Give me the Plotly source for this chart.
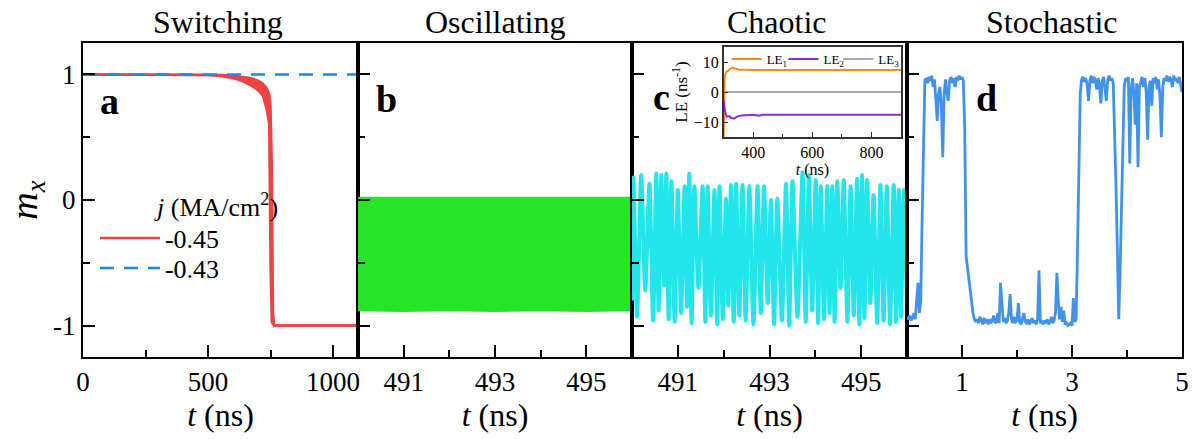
import plotly.graph_objects as go

FONT = "Liberation Serif"

# ---------------- data ----------------
# Panel a (Switching): envelope of the fast-oscillating j=-0.45 curve, and j=-0.43 curve
t_a = [0, 200, 400, 500, 560, 600, 640, 670, 700, 720, 735, 745, 750, 755, 760, 765, 800, 1100]
mx_a_hi = [1, 1, 1, 0.998, 0.995, 0.99, 0.983, 0.972, 0.95, 0.925, 0.89, 0.84, 0.75, 0.3, -0.9, -1.0, -1, -1]
mx_a_lo = [1, 1, 0.999, 0.995, 0.985, 0.97, 0.945, 0.915, 0.875, 0.83, 0.72, 0.6, -0.5, -0.97, -0.99, -1.0, -1, -1]
t_a2 = [0, 1100]
mx_a2 = [1, 1]

# Panel b (Oscillating): envelope of the fast oscillation
t_b = [490, 491, 492, 493, 494, 495, 496]
mx_b_hi = [0.02, 0.02, 0.015, 0.02, 0.02, 0.015, 0.02]
mx_b_lo = [-0.88, -0.885, -0.88, -0.885, -0.88, -0.885, -0.88]

# Panel c (Chaotic): successive extrema
t_c = [490.00, 490.03, 490.11, 490.20, 490.29, 490.38, 490.46, 490.53, 490.58, 490.64,
       490.70, 490.75, 490.80, 490.86, 490.93, 491.00, 491.07, 491.15, 491.20, 491.25,
       491.30, 491.36, 491.45, 491.54, 491.60, 491.65, 491.72, 491.80, 491.86, 491.91,
       491.98, 492.05, 492.10, 492.16, 492.22, 492.27, 492.34, 492.41, 492.48, 492.56,
       492.65, 492.74, 492.81, 492.88, 492.96, 493.03, 493.10, 493.17, 493.27, 493.36,
       493.43, 493.50, 493.61, 493.72, 493.79, 493.86, 493.93, 494.01, 494.06, 494.12,
       494.19, 494.26, 494.31, 494.37, 494.42, 494.48, 494.55, 494.62, 494.70, 494.77,
       494.84, 494.91, 494.96, 495.02, 495.07, 495.13, 495.20, 495.27, 495.35, 495.42,
       495.49, 495.56, 495.63, 495.71, 495.76, 495.82, 495.87, 495.93, 496.00]
mx_c = [-0.80, 0.18, -0.93, 0.20, -0.72, 0.13, -0.96, 0.21, -0.88, 0.20,
        -0.68, 0.21, -0.95, 0.15, -0.97, 0.08, -0.90, 0.11, -0.85, 0.21,
        -0.98, 0.11, -0.70, 0.11, -0.97, 0.11, -0.92, 0.08, -0.99, 0.11,
        -0.95, 0.01, -0.84, 0.12, -0.97, 0.13, -0.92, 0.12, -0.96, 0.11,
        -0.99, 0.11, -0.90, 0.11, -0.82, 0.00, -0.99, 0.01, -0.96, 0.13,
        -1.00, 0.15, -0.93, 0.22, -0.97, 0.20, -0.88, 0.16, -0.98, 0.11,
        -0.95, 0.11, -0.90, 0.11, -0.97, 0.15, -0.70, 0.16, -0.97, 0.11,
        -0.92, 0.17, -0.99, 0.20, -0.94, 0.16, -0.82, 0.04, -0.98, 0.12,
        -0.96, 0.11, -0.99, 0.12, -0.97, 0.08, -0.93, 0.08, -0.90]

# Panel d (Stochastic): sampled every 0.025 ns from 0 to 5 ns
mx_d = [-0.93, -0.95, -0.92, -0.96, -0.94, -0.90, -0.95, -0.80, -0.66, -0.90,
        -0.80, -0.15, 0.50, 0.95, 0.97, 0.93, 0.98, 0.95, 0.99, 0.90,
        0.96, 0.80, 0.63, 0.85, 0.90, 0.75, 0.34, 0.85, 0.96, 0.85,
        0.79, 0.95, 0.98, 0.93, 0.97, 0.90, 0.98, 0.95, 0.99, 0.96,
        0.98, 0.95, 0.55, -0.45, -0.55, -0.65, -0.74, -0.84, -0.90, -0.95,
        -0.97, -0.95, -0.98, -0.93, -0.97, -0.99, -0.94, -0.97, -0.96, -0.99,
        -0.95, -0.98, -0.96, -0.92, -0.98, -0.97, -0.90, -0.98, -0.66, -0.85,
        -0.97, -0.94, -0.98, -0.96, -0.90, -0.75, -0.95, -0.98, -0.93, -0.97,
        -0.96, -0.82, -0.97, -0.99, -0.94, -0.90, -0.97, -0.98, -0.95, -0.99,
        -0.97, -0.94, -0.98, -0.96, -0.99, -0.95, -0.56, -0.98, -0.97, -0.99,
        -0.96, -0.98, -0.95, -0.99, -0.97, -0.93, -0.98, -0.96, -0.90, -0.58,
        -0.80, -0.95, -0.85, -0.97, -0.88, -0.99, -0.98, -1.00, -0.99, -0.98,
        -1.00, -0.78, -0.97, -0.95, -0.40, 0.30, 0.85, 0.96, 0.98, 0.94,
        0.97, 0.92, 0.79, 0.95, 0.99, 0.93, 0.98, 0.95, 0.88, 0.97,
        0.92, 0.77, 0.95, 0.98, 0.90, 0.79, 0.96, 0.99, 0.95, 0.97,
        0.93, 0.60, 0.10, -0.40, -0.95, -0.55, 0.00, 0.55, 0.90, 0.97,
        0.95, 0.98, 0.29, 0.88, 0.97, 0.85, 0.60, 0.93, 0.26, 0.90,
        0.95, 0.98, 0.90, 0.97, 0.85, 0.48, 0.90, 0.95, 0.75, 0.97,
        0.93, 0.98, 0.88, 0.96, 0.82, 0.50, 0.90, 0.97, 0.95, 0.99,
        0.94, 0.98, 0.96, 0.90, 0.99, 0.95, 0.97, 0.93, 0.98, 0.90,
        0.86]
t_d_step = 0.025

# Inset: Lyapunov exponents
t_le1 = [300, 301, 303, 306, 310, 315, 320, 330, 340, 350, 370, 400, 500, 600, 700, 800, 900]
le1 = [-15, -4, 4.5, 6.0, 6.8, 7.0, 7.6, 8.1, 7.8, 7.5, 7.4, 7.3, 7.3, 7.3, 7.3, 7.3, 7.3]
t_le2 = [300, 302, 305, 310, 318, 325, 335, 345, 360, 400, 420, 430, 500, 550, 560, 600, 900]
le2 = [-3.0, -4.5, -6.5, -8.2, -8.0, -8.6, -8.9, -8.2, -7.8, -7.6, -7.9, -7.6, -7.6, -7.8, -7.6, -7.6, -7.6]
t_le3 = [300, 900]
le3 = [0, 0]
le_names = ["LE<sub>1</sub>", "LE<sub>2</sub>", "LE<sub>3</sub>"]

RED = "#EC4444"
BLUE_DASH = "#1E88E5"
GREEN = "#28E428"
CYAN = "#22E6EC"
BLUE = "#4192EA"
ORANGE = "#F28C28"
PURPLE = "#8A2BE2"
GRAY = "#8C8C8C"

fig = go.Figure()

# Panel a
fig.add_trace(go.Scatter(x=t_a, y=mx_a_lo, mode="lines", line=dict(color=RED, width=2.5),
                         name="-0.45", legend="legend", showlegend=True, xaxis="x", yaxis="y"))
fig.add_trace(go.Scatter(x=t_a, y=mx_a_hi, mode="lines", line=dict(color=RED, width=2.5),
                         fill="tonexty", fillcolor=RED, showlegend=False, xaxis="x", yaxis="y"))
fig.add_trace(go.Scatter(x=t_a2, y=mx_a2, mode="lines", line=dict(color=BLUE_DASH, width=2.5, dash="14px,10px"),
                         name="-0.43", legend="legend2", showlegend=True, xaxis="x", yaxis="y"))

# Panel b
fig.add_trace(go.Scatter(x=t_b, y=mx_b_lo, mode="lines", line=dict(color=GREEN, width=1.5),
                         showlegend=False, xaxis="x2", yaxis="y2"))
fig.add_trace(go.Scatter(x=t_b, y=mx_b_hi, mode="lines", line=dict(color=GREEN, width=1.5),
                         fill="tonexty", fillcolor=GREEN, showlegend=False, xaxis="x2", yaxis="y2"))

# Panel c
fig.add_trace(go.Scatter(x=t_c, y=mx_c, mode="lines", line=dict(color=CYAN, width=4, shape="spline", smoothing=0.7),
                         showlegend=False, xaxis="x3", yaxis="y3"))

# Panel d
fig.add_trace(go.Scatter(x0=0, dx=t_d_step, y=mx_d, mode="lines", line=dict(color=BLUE, width=2.8),
                         showlegend=False, xaxis="x4", yaxis="y4"))

# Inset
fig.add_trace(go.Scatter(x=t_le3, y=le3, mode="lines", line=dict(color=GRAY, width=1.5),
                         name=le_names[2], legend="legend5", showlegend=True, xaxis="x5", yaxis="y5"))
fig.add_trace(go.Scatter(x=t_le1, y=le1, mode="lines", line=dict(color=ORANGE, width=2),
                         name=le_names[0], legend="legend3", showlegend=True, xaxis="x5", yaxis="y5"))
fig.add_trace(go.Scatter(x=t_le2, y=le2, mode="lines", line=dict(color=PURPLE, width=2),
                         name=le_names[1], legend="legend4", showlegend=True, xaxis="x5", yaxis="y5"))

W, H = 1201, 439
X0, X1, Y0, Y1 = 83, 1186, 43, 357      # plot area in window pixels
L, R, T, B = X0, W - X1, Y0, H - Y1
PW = X1 - X0
PH = Y1 - Y0


def px(x):
    return (x - X0) / PW


def py(y):
    return (Y1 - y) / PH


tickfont = dict(family=FONT, size=27, color="black")
titlefont = dict(family=FONT, size=32, color="black")

common = dict(showline=True, linecolor="black", linewidth=2, mirror=True,
              ticks="inside", ticklen=12, tickwidth=2, tickcolor="black",
              showgrid=False, zeroline=False, tickfont=tickfont)

yminor = dict(tickvals=[-0.5, 0.5], ticks="inside", ticklen=7, tickwidth=2, tickcolor="black")

doms = [[0, px(359)], [px(359), px(634)], [px(634), px(910)], [px(910), 1]]


def small_legend(xpix):
    return dict(x=px(xpix), y=py(59), xanchor="left", yanchor="middle", bgcolor="rgba(0,0,0,0)",
                font=dict(family=FONT, size=13, color="black"), itemwidth=30)


fig.update_layout(
    width=W, height=H,
    margin=dict(l=L, r=R, t=T, b=B),
    paper_bgcolor="white", plot_bgcolor="white",
    font=dict(family=FONT, color="black"),
    xaxis=dict(domain=doms[0], range=[0, 1100], tickvals=[0, 500, 1000],
               minor=dict(tickvals=[250, 750], ticks="inside", ticklen=7, tickwidth=2, tickcolor="black"),
               title=dict(text="<i>t</i> (ns)", font=titlefont, standoff=4), anchor="y", **common),
    yaxis=dict(domain=[0, 1], range=[-1.25, 1.25], tickvals=[-1, 0, 1], ticktext=["-1", "0", "1"],
               minor=yminor, anchor="x",
               title=dict(text="<i>m<sub>x</sub></i>", font=dict(family=FONT, size=38, color="black"), standoff=4),
               **common),
    xaxis2=dict(domain=doms[1], range=[490, 496], tickvals=[491, 493, 495],
                minor=dict(tickvals=[492, 494], ticks="inside", ticklen=7, tickwidth=2, tickcolor="black"),
                title=dict(text="<i>t</i> (ns)", font=titlefont, standoff=4), anchor="y2", **common),
    yaxis2=dict(domain=[0, 1], range=[-1.25, 1.25], tickvals=[-1, 0, 1], showticklabels=False,
                minor=yminor, anchor="x2", **common),
    xaxis3=dict(domain=doms[2], range=[490, 496], tickvals=[491, 493, 495],
                minor=dict(tickvals=[492, 494], ticks="inside", ticklen=7, tickwidth=2, tickcolor="black"),
                title=dict(text="<i>t</i> (ns)", font=titlefont, standoff=4), anchor="y3", **common),
    yaxis3=dict(domain=[0, 1], range=[-1.25, 1.25], tickvals=[-1, 0, 1], showticklabels=False,
                minor=yminor, anchor="x3", **common),
    xaxis4=dict(domain=doms[3], range=[0, 5], tickvals=[1, 3, 5],
                minor=dict(tickvals=[2, 4], ticks="inside", ticklen=7, tickwidth=2, tickcolor="black"),
                title=dict(text="<i>t</i> (ns)", font=titlefont, standoff=4), anchor="y4", **common),
    yaxis4=dict(domain=[0, 1], range=[-1.25, 1.25], tickvals=[-1, 0, 1], showticklabels=False,
                minor=yminor, anchor="x4", **common),
    xaxis5=dict(domain=[px(726), px(904)], range=[300, 900], tickvals=[400, 600, 800],
                minor=dict(tickvals=[500, 700], ticks="inside", ticklen=3, tickwidth=1.2, tickcolor="#333"),
                showline=True, linecolor="#333", linewidth=1.5, mirror=True,
                ticks="inside", ticklen=5, tickwidth=1.2, tickcolor="#333",
                showgrid=False, zeroline=False, tickfont=dict(family=FONT, size=16, color="black"),
                title=dict(text="<i>t</i> (ns)", font=dict(family=FONT, size=16, color="black"), standoff=0),
                anchor="y5"),
    yaxis5=dict(domain=[py(137), py(47)], range=[-15, 15], tickvals=[-10, 0, 10],
                showline=True, linecolor="#333", linewidth=1.5, mirror=True,
                ticks="inside", ticklen=5, tickwidth=1.2, tickcolor="#333",
                showgrid=False, zeroline=False, tickfont=dict(family=FONT, size=16, color="black"),
                title=dict(text="LE (ns<sup>-1</sup>)", font=dict(family=FONT, size=17, color="black"), standoff=2),
                anchor="x5"),
    legend=dict(x=px(95), y=py(238), xanchor="left", yanchor="middle", bgcolor="rgba(0,0,0,0)",
                font=dict(family=FONT, size=26, color="black"), itemwidth=60),
    legend2=dict(x=px(95), y=py(268), xanchor="left", yanchor="middle", bgcolor="rgba(0,0,0,0)",
                 font=dict(family=FONT, size=26, color="black"), itemwidth=60),
    legend3=small_legend(729),
    legend4=small_legend(786),
    legend5=small_legend(841),
)

ann = []
for text, xc in [("Switching", 218), ("Oscillating", 497), ("Chaotic", 780), ("Stochastic", 1056)]:
    ann.append(dict(text=text, x=px(xc), y=py(22), xref="paper", yref="paper",
                    xanchor="center", yanchor="middle", showarrow=False,
                    font=dict(family=FONT, size=32, color="black")))
for text, xc, yc in [("a", 110, 101), ("b", 388, 99), ("c", 664, 97), ("d", 990, 98)]:
    ann.append(dict(text="<b>%s</b>" % text, x=px(xc), y=py(yc), xref="paper", yref="paper",
                    xanchor="center", yanchor="middle", showarrow=False,
                    font=dict(family=FONT, size=38, color="black")))
ann.append(dict(text="<i>j</i> (MA/cm<sup>2</sup>)", x=px(152), y=py(205), xref="paper", yref="paper",
                xanchor="left", yanchor="middle", showarrow=False,
                font=dict(family=FONT, size=26, color="black")))
fig.update_layout(annotations=ann)

fig.write_html("out.html", config={"displayModeBar": False},
               post_script="document.body.style.margin='0px';")
